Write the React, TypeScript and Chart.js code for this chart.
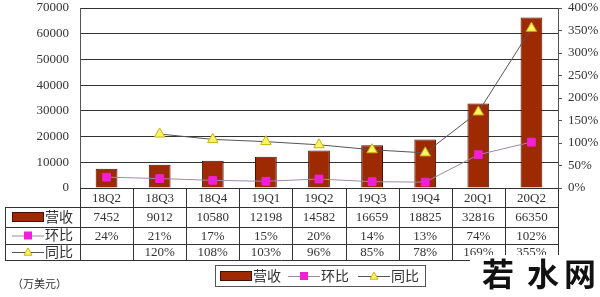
import React, { useEffect, useRef } from "react";
import { Chart, registerables } from "chart.js";

Chart.register(...registerables);

const categories = ["18Q2", "18Q3", "18Q4", "19Q1", "19Q2", "19Q3", "19Q4", "20Q1", "20Q2"];
const revenue = [7452, 9012, 10580, 12198, 14582, 16659, 18825, 32816, 66350];
const qoq = [24, 21, 17, 15, 20, 14, 13, 74, 102];
const yoy: (number | null)[] = [null, 120, 108, 103, 96, 85, 78, 169, 355];
const leftTicks = [0, 10000, 20000, 30000, 40000, 50000, 60000, 70000];
const seriesNames = ["营收", "环比", "同比"];
const unitLabel = "（万美元）";
const watermark = ["若", "水", "网"];

const FONT = '"Liberation Serif", "Noto Sans CJK SC", serif';
const BAR_FILL = "#9E2A04";
const BAR_BORDER = "#4A1000";
const QOQ_LINE = "#A088A8";
const QOQ_FILL = "#F020D8";
const YOY_LINE = "#555555";
const YOY_FILL = "#FFF36A";
const YOY_BORDER = "#C8B400";
const GRID = "#333333";
const TEXT = "#333333";

function drawTri(ctx: CanvasRenderingContext2D, x: number, y: number, r: number) {
  ctx.beginPath();
  ctx.moveTo(x, y - r);
  ctx.lineTo(x + r, y + r * 0.8);
  ctx.lineTo(x - r, y + r * 0.8);
  ctx.closePath();
  ctx.fillStyle = YOY_FILL;
  ctx.fill();
  ctx.strokeStyle = YOY_BORDER;
  ctx.lineWidth = 1;
  ctx.stroke();
}

function drawKey(ctx: CanvasRenderingContext2D, kind: number, x: number, y: number, w: number) {
  if (kind === 0) {
    ctx.fillStyle = BAR_FILL;
    ctx.fillRect(x, y - 5, w, 10);
    ctx.strokeStyle = BAR_BORDER;
    ctx.lineWidth = 1;
    ctx.strokeRect(x + 0.5, y - 4.5, w - 1, 9);
  } else if (kind === 1) {
    ctx.strokeStyle = QOQ_LINE;
    ctx.lineWidth = 1;
    ctx.beginPath();
    ctx.moveTo(x, y + 0.5);
    ctx.lineTo(x + w, y + 0.5);
    ctx.stroke();
    ctx.fillStyle = QOQ_FILL;
    ctx.fillRect(x + w / 2 - 4, y - 4, 8, 8);
  } else {
    ctx.strokeStyle = YOY_LINE;
    ctx.lineWidth = 1;
    ctx.beginPath();
    ctx.moveTo(x, y + 0.5);
    ctx.lineTo(x + w, y + 0.5);
    ctx.stroke();
    drawTri(ctx, x + w / 2, y, 4);
  }
}

const tablePlugin = {
  id: "dataTable",
  afterDraw(chart: any) {
    const ctx: CanvasRenderingContext2D = chart.ctx;
    const xs = chart.scales.x;
    const area = chart.chartArea;
    const n = categories.length;
    const step = (area.right - area.left) / n;
    const rowY = [area.bottom, area.bottom + 19, area.bottom + 39, area.bottom + 56, area.bottom + 72];
    const tableLeft = 5;
    ctx.save();
    ctx.strokeStyle = GRID;
    ctx.lineWidth = 1;
    for (let i = 0; i <= n; i++) {
      const x = Math.round(area.left + i * step) + 0.5;
      ctx.beginPath();
      ctx.moveTo(x, rowY[0]);
      ctx.lineTo(x, rowY[4]);
      ctx.stroke();
    }
    ctx.beginPath();
    ctx.moveTo(tableLeft + 0.5, rowY[1]);
    ctx.lineTo(tableLeft + 0.5, rowY[4]);
    ctx.stroke();
    for (let r = 1; r <= 4; r++) {
      const y = Math.round(rowY[r]) + 0.5;
      ctx.beginPath();
      ctx.moveTo(tableLeft, y);
      ctx.lineTo(area.right, y);
      ctx.stroke();
    }
    ctx.fillStyle = TEXT;
    ctx.font = `13px ${FONT}`;
    ctx.textAlign = "center";
    ctx.textBaseline = "middle";
    for (let i = 0; i < n; i++) {
      const cx = xs.getPixelForValue(i);
      ctx.fillText(categories[i], cx, (rowY[0] + rowY[1]) / 2 + 1);
      ctx.fillText(String(revenue[i]), cx, (rowY[1] + rowY[2]) / 2 + 1);
      ctx.fillText(`${qoq[i]}%`, cx, (rowY[2] + rowY[3]) / 2 + 1);
      const v = yoy[i];
      if (v !== null) ctx.fillText(`${v}%`, cx, (rowY[3] + rowY[4]) / 2 + 1);
    }
    ctx.textAlign = "left";
    for (let r = 0; r < 3; r++) {
      const cy = (rowY[r + 1] + rowY[r + 2]) / 2;
      drawKey(ctx, r, 12, cy, 32);
      ctx.fillStyle = TEXT;
      ctx.font = `14px ${FONT}`;
      ctx.fillText(seriesNames[r], 45, cy + 1);
    }
    const ly = 276;
    ctx.strokeStyle = "#555";
    ctx.strokeRect(215.5, 265.5, 210, 21);
    const items = [220, 288, 358];
    for (let r = 0; r < 3; r++) {
      drawKey(ctx, r, items[r], ly, 32);
      ctx.fillStyle = TEXT;
      ctx.font = `14px ${FONT}`;
      ctx.fillText(seriesNames[r], items[r] + 33, ly + 1);
    }
    ctx.font = `11px ${FONT}`;
    ctx.fillStyle = TEXT;
    ctx.fillText(unitLabel, 12, 285);
    ctx.fillStyle = "#ffffff";
    ctx.fillRect(470, 255, 130, 42);
    ctx.fillStyle = "#111111";
    ctx.font = `bold 32px "Noto Sans CJK SC", sans-serif`;
    ctx.textAlign = "center";
    const wx = [498, 543, 580];
    for (let i = 0; i < 3; i++) ctx.fillText(watermark[i], wx[i], 274);
    ctx.restore();
  },
};

const fitV = (w: number) => (s: any) => {
  s.width = w;
  s.paddingTop = 0;
  s.paddingBottom = 0;
};

export default function App() {
  const ref = useRef<HTMLCanvasElement | null>(null);
  useEffect(() => {
    document.body.style.margin = "0";
    const canvas = ref.current;
    if (!canvas) return;
    const chart = new Chart(canvas, {
      type: "bar",
      data: {
        labels: categories,
        datasets: [
          {
            type: "line",
            label: seriesNames[2],
            data: yoy,
            yAxisID: "y1",
            borderColor: YOY_LINE,
            borderWidth: 1,
            pointStyle: "triangle",
            pointRadius: 6,
            pointBackgroundColor: YOY_FILL,
            pointBorderColor: YOY_BORDER,
            pointBorderWidth: 1,
            spanGaps: false,
            order: 0,
          } as any,
          {
            type: "line",
            label: seriesNames[1],
            data: qoq,
            yAxisID: "y1",
            borderColor: QOQ_LINE,
            borderWidth: 1,
            pointStyle: "rect",
            pointRadius: 5.5,
            pointBackgroundColor: QOQ_FILL,
            pointBorderColor: QOQ_FILL,
            pointBorderWidth: 1,
            order: 1,
          } as any,
          {
            type: "bar",
            label: seriesNames[0],
            data: revenue,
            yAxisID: "y",
            backgroundColor: BAR_FILL,
            borderColor: BAR_BORDER,
            borderWidth: 1,
            categoryPercentage: 1,
            barPercentage: 0.41,
            order: 2,
          } as any,
        ],
      },
      options: {
        responsive: false,
        animation: false,
        layout: { padding: { left: 0, right: 0, top: 8, bottom: 90 } },
        plugins: { legend: { display: false }, tooltip: { enabled: false } },
        scales: {
          x: {
            grid: { display: false },
            border: { display: false },
            ticks: { display: false },
            afterFit: (s: any) => { s.height = 19; s.paddingLeft = 0; s.paddingRight = 0; },
          },
          y: {
            position: "left",
            min: 0,
            max: 70000,
            afterBuildTicks: (s: any) => { s.ticks = leftTicks.map((v) => ({ value: v })); },
            grid: { color: GRID, drawTicks: false },
            border: { display: true, color: "#555" },
            ticks: { color: TEXT, font: { family: FONT, size: 13 }, padding: 11, callback: (v: any) => String(v) },
            afterFit: fitV(80),
          },
          y1: {
            position: "right",
            min: 0,
            max: 400,
            grid: { drawOnChartArea: false, drawTicks: true, tickLength: 4, color: "#555" },
            border: { display: true, color: "#555" },
            ticks: { stepSize: 50, color: TEXT, font: { family: FONT, size: 13 }, padding: 6, callback: (v: any) => `${v}%` },
            afterFit: fitV(42),
          },
        },
      },
      plugins: [tablePlugin],
    });
    return () => chart.destroy();
  }, []);
  return <canvas ref={ref} width={600} height={297} style={{ display: "block", width: 600, height: 297 }} />;
}
